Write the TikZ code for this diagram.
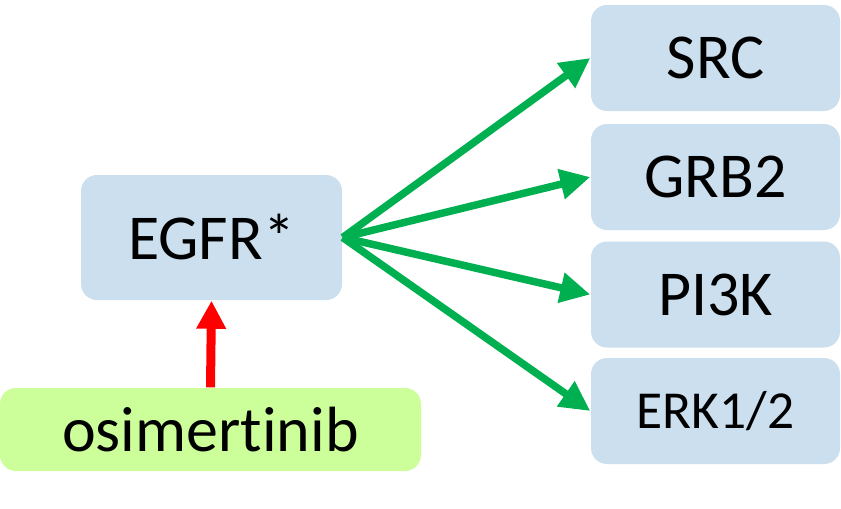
\documentclass[tikz,border=0pt]{standalone}
\usepackage{fontspec}
\setmainfont[Ligatures=NoCommon]{Carlito}
\usetikzlibrary{
    arrows.meta,
    positioning,
    calc
}
\definecolor{boxblue}{HTML}{CBDFEE}
\definecolor{drugGreen}{HTML}{CCFF99}
\definecolor{actGreen}{HTML}{00B050}
\tikzset{
    % --- Protein box (rounded, light blue) ---
    protein/.style = {
        rectangle, rounded corners=0.16cm, fill=boxblue,
        minimum width=2.49cm, minimum height=1.06cm,
        inner sep=0pt, font=\fontsize{18.2pt}{21pt}\selectfont
    },
    % --- Drug box (rounded, light green) ---
    drug/.style = {
        rectangle, rounded corners=0.16cm, fill=drugGreen,
        minimum width=4.21cm, minimum height=0.83cm,
        inner sep=0pt, font=\fontsize{18.2pt}{21pt}\selectfont
    },
    % --- Activation arrow ---
    act arrow/.style = {
        -{Triangle[length=0.3cm, width=0.29cm]},
        line width=0.075cm, actGreen
    },
    % --- Drug effect arrow ---
    drug arrow/.style = {
        -{Triangle[length=0.28cm, width=0.28cm]},
        line width=0.09cm, red
    }
}

\begin{document}
\begin{tikzpicture}

\useasboundingbox (0, 0) rectangle (8.41, -5.08);

% ---------------------------------------------------------
% Receptor and drug
% ---------------------------------------------------------
\node[protein, minimum width=2.61cm, minimum height=1.25cm] (egfr) at (2.115, -2.375) {EGFR*};
\node[drug] (osi) at (2.105, -4.295) {osimertinib};

% ---------------------------------------------------------
% Downstream targets
% ---------------------------------------------------------
\node[protein] (src) at (7.155, -0.58) {SRC};
\node[protein] (grb) at (7.155, -1.77) {GRB2};
\node[protein] (pik) at (7.155, -2.945) {PI3K};
\node[protein, font=\fontsize{15.2pt}{18pt}\selectfont] (erk) at (7.155, -4.11) {ERK1/2};

% ---------------------------------------------------------
% Arrows
% ---------------------------------------------------------
\foreach \t in {src, grb, pik, erk} {
    \draw[act arrow] (egfr.east) -- (\t.west);
}
\draw[drug arrow] (osi.north) -- (egfr.south);

\end{tikzpicture}
\end{document}
